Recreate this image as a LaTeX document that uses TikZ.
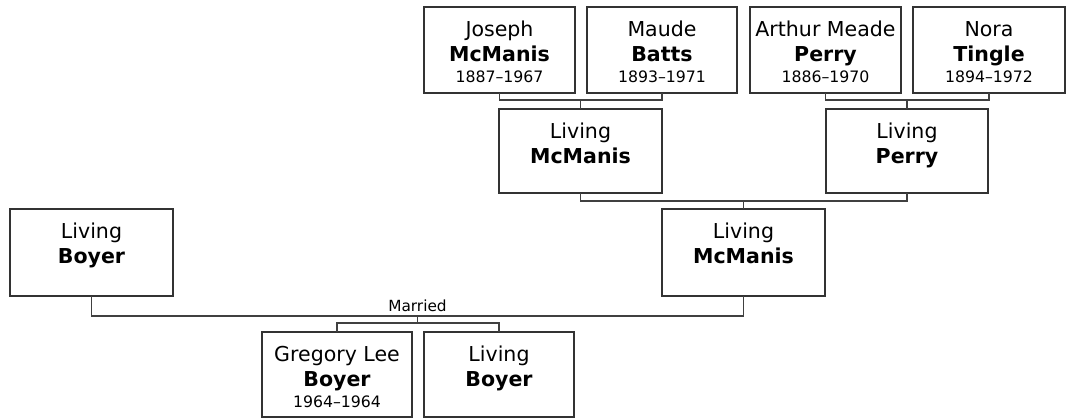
\documentclass[tikz,border=0pt]{standalone}
\usepackage{fontspec}
\setmainfont{DejaVu Sans}
\usetikzlibrary{calc}
\tikzset{
  box/.style={draw=black!80, line width=1pt, fill=white, rectangle, inner sep=0pt, outer sep=0pt, anchor=north west},
  conn/.style={draw=black!75, line width=1pt},
  firstname/.style={anchor=base, inner sep=0pt, font=\fontsize{15.4}{18}\selectfont},
  lastname/.style={anchor=base, inner sep=0pt, font=\fontsize{15.4}{18}\selectfont\bfseries},
  dates/.style={anchor=base, inner sep=0pt, font=\fontsize{11.8}{14}\selectfont},
  marlabel/.style={anchor=base, inner sep=0pt, font=\fontsize{11.5}{14}\selectfont},
}
% #1 name, #2 left, #3 top, #4 right, #5 bottom (px), #6 first, #7 last, #8 dates
\newcommand{\personbox}[8]{%
  \node[box, minimum width={(#4-#2)*0.75pt}, minimum height={(#5-#3)*0.75pt}] (#1) at (#2,#3) {};
  \node[firstname] (#1-first) at ([yshift=-21.75pt]#1.north) {#6};
  \node[lastname] (#1-last) at ([yshift=-40.9pt]#1.north) {#7};
  \node[dates] (#1-dates) at ([yshift=-56.25pt]#1.north) {#8};
}
\begin{document}
\begin{tikzpicture}[x=0.75pt, y=-0.75pt]
\useasboundingbox (0,0) rectangle (1066,418);
% great-grandparents
\personbox{joseph}{424}{7}{575}{93}{Joseph}{McManis}{1887–1967}
\personbox{maude}{587}{7}{737}{93}{Maude}{Batts}{1893–1971}
\personbox{arthur}{750}{7}{901}{93}{Arthur Meade}{Perry}{1886–1970}
\personbox{nora}{913}{7}{1065}{93}{Nora}{Tingle}{1894–1972}
% grandparents
\personbox{gpmc}{499}{109}{662}{193}{Living}{McManis}{}
\personbox{gpperry}{826}{109}{988}{193}{Living}{Perry}{}
% parents
\personbox{pboyer}{10}{209}{173}{296}{Living}{Boyer}{}
\personbox{pmcmanis}{662}{209}{825}{296}{Living}{McManis}{}
% children
\personbox{greg}{262}{332}{412}{417}{Gregory Lee}{Boyer}{1964–1964}
\personbox{lboyer}{424}{332}{574}{417}{Living}{Boyer}{}
% connectors
\draw[conn] (joseph.south) -- ++(0,7) -| (maude.south);
\draw[conn] (gpmc.north) -- ++(0,-9);
\draw[conn] (arthur.south) -- ++(0,7) -| (nora.south);
\draw[conn] (gpperry.north) -- ++(0,-9);
\draw[conn] (gpmc.south) -- ++(0,8) -| (gpperry.south);
\draw[conn] (pmcmanis.north) -- ++(0,-8);
\draw[conn] (pboyer.south) -- ++(0,20) -| (pmcmanis.south);
\coordinate (mar) at ($(pboyer.south)!0.5!(pmcmanis.south)+(0,20)$);
\node[marlabel] (married) at ($(pboyer.south)!0.5!(pmcmanis.south)+(0,15)$) {Married};
\draw[conn] (mar) -- ++(0,7) coordinate (kids);
\draw[conn] (greg.north) |- (kids) -| (lboyer.north);
\end{tikzpicture}
\end{document}
